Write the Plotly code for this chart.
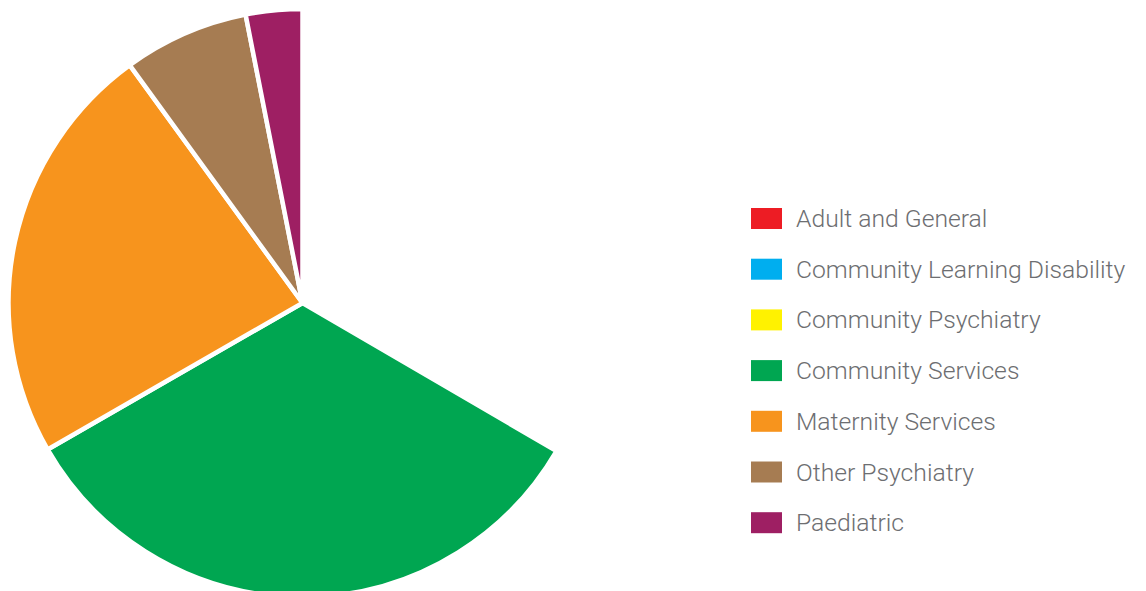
import plotly.graph_objects as go

categories = ["Adult and General", "Community Learning Disability", "Community Psychiatry",
              "Community Services", "Maternity Services", "Other Psychiatry", "Paediatric"]
values = [33.4, 0, 0, 33.3, 23.3, 6.9, 3.1]
legend_colors = ["#ED1C24", "#00AEEF", "#FFF200", "#00A651", "#F7941D", "#A67C52", "#9E1F63"]
# the first slice is not rendered in the reference (appears blank)
slice_colors = ["#FFFFFF"] + legend_colors[1:]

W, H = 1146, 591
MT, MB = 0, 1
PH = H - MT - MB
OFF = 8  # page body margin offset

fig = go.Figure()
fig.add_trace(go.Pie(
    labels=categories, values=values, sort=False, direction="clockwise", rotation=0,
    marker=dict(colors=slice_colors, line=dict(color="#FFFFFF", width=4.5)),
    textinfo="none", hoverinfo="label+percent", showlegend=False,
    domain=dict(x=[0.5 / W, 588.5 / W], y=[0, 1]),
))

# legend drawn as swatches + text
def py(ypx):
    return (H - MB - (ypx - OFF)) / PH

def px(xpx):
    return (xpx - OFF) / W

shapes, annotations = [], []
y_first, step = 218.5, 50.7
for i, (name, col) in enumerate(zip(categories, legend_colors)):
    yc = y_first + i * step
    shapes.append(dict(type="rect", xref="paper", yref="paper",
                       x0=px(751), x1=px(782), y0=py(yc + 10.5), y1=py(yc - 10.5),
                       fillcolor=col, line=dict(width=0)))
    annotations.append(dict(text=name, xref="paper", yref="paper", x=px(794), y=py(yc),
                            xanchor="left", yanchor="middle", showarrow=False,
                            font=dict(family="Roboto", size=24.7, color="#6d6e71", weight=300)))

fig.update_layout(
    width=W, height=H,
    margin=dict(l=0, r=0, t=MT, b=MB),
    paper_bgcolor="white", plot_bgcolor="white",
    showlegend=False,
    shapes=shapes, annotations=annotations,
)
fig.write_html("out.html")
